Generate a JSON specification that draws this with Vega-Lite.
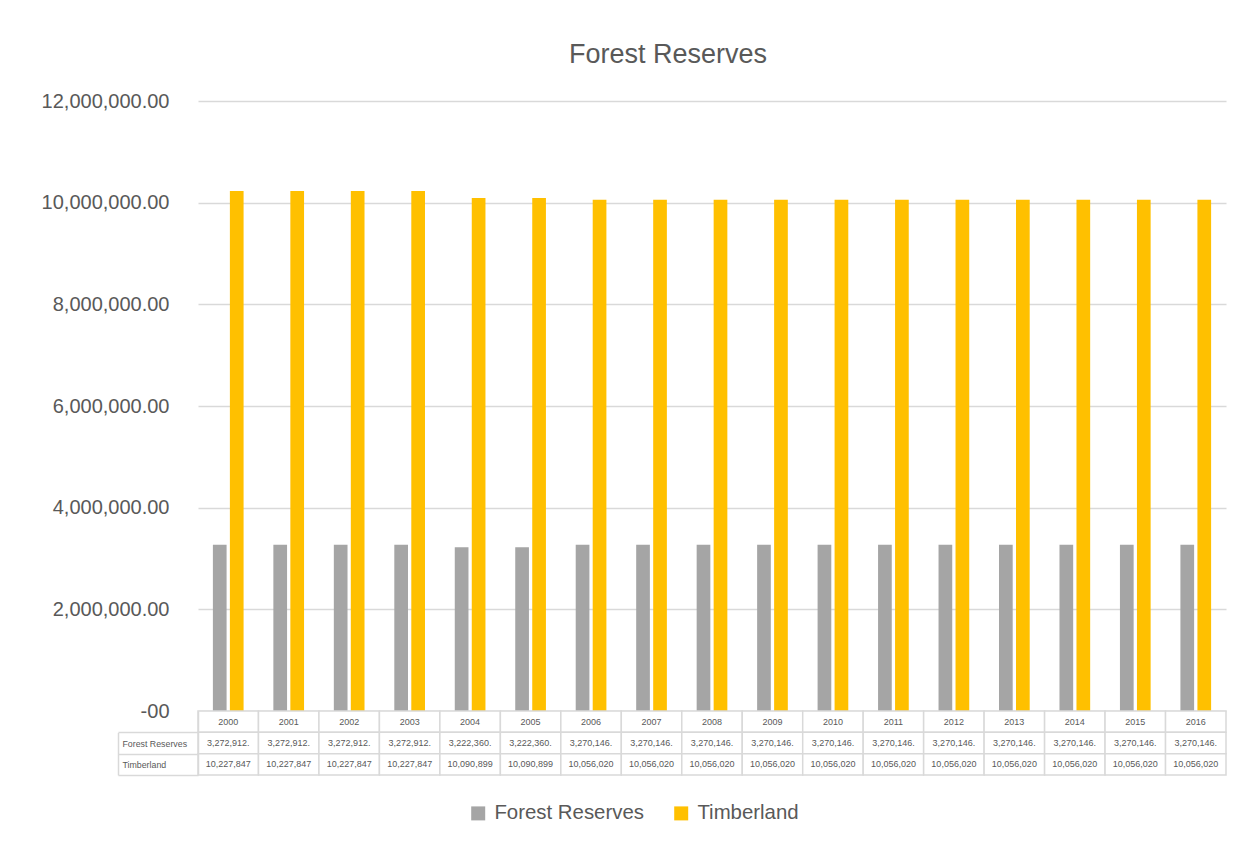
{
  "$schema": "https://vega.github.io/schema/vega-lite/v6.json",
  "width": 1028,
  "height": 674,
  "autosize": {"type": "none"},
  "padding": {"left": 198, "top": 101, "right": 30, "bottom": 71},
  "background": "white",
  "config": {"view": {"stroke": null}, "font": "Liberation Sans"},
  "title": {
    "text": "Forest Reserves",
    "fontSize": 27,
    "font": "Liberation Sans",
    "fontWeight": "normal",
    "color": "#595959",
    "anchor": "middle",
    "frame": "group",
    "dx": -44,
    "baseline": "alphabetic",
    "offset": 1
  },
  "data": {
    "values": [
      {"year": "2000", "Forest Reserves": 3272912, "Timberland": 10227847},
      {"year": "2001", "Forest Reserves": 3272912, "Timberland": 10227847},
      {"year": "2002", "Forest Reserves": 3272912, "Timberland": 10227847},
      {"year": "2003", "Forest Reserves": 3272912, "Timberland": 10227847},
      {"year": "2004", "Forest Reserves": 3222360, "Timberland": 10090899},
      {"year": "2005", "Forest Reserves": 3222360, "Timberland": 10090899},
      {"year": "2006", "Forest Reserves": 3270146, "Timberland": 10056020},
      {"year": "2007", "Forest Reserves": 3270146, "Timberland": 10056020},
      {"year": "2008", "Forest Reserves": 3270146, "Timberland": 10056020},
      {"year": "2009", "Forest Reserves": 3270146, "Timberland": 10056020},
      {"year": "2010", "Forest Reserves": 3270146, "Timberland": 10056020},
      {"year": "2011", "Forest Reserves": 3270146, "Timberland": 10056020},
      {"year": "2012", "Forest Reserves": 3270146, "Timberland": 10056020},
      {"year": "2013", "Forest Reserves": 3270146, "Timberland": 10056020},
      {"year": "2014", "Forest Reserves": 3270146, "Timberland": 10056020},
      {"year": "2015", "Forest Reserves": 3270146, "Timberland": 10056020},
      {"year": "2016", "Forest Reserves": 3270146, "Timberland": 10056020}
    ]
  },
  "layer": [
    {
      "transform": [{"fold": ["Forest Reserves", "Timberland"], "as": ["series", "value"]}],
      "mark": {"type": "bar"},
      "encoding": {
        "x": {"field": "year", "type": "nominal", "scale": {"paddingInner": 0, "paddingOuter": 0}, "axis": null},
        "xOffset": {"field": "series", "type": "nominal", "scale": {"domain": ["Forest Reserves", "Timberland"], "paddingInner": 0.194, "paddingOuter": 0.876}},
        "y": {
          "field": "value",
          "type": "quantitative",
          "scale": {"domain": [0, 12000000], "range": [610, 0], "nice": false},
          "axis": {
            "title": null,
            "orient": "left",
            "values": [0, 2000000, 4000000, 6000000, 8000000, 10000000, 12000000],
            "labelExpr": "datum.value == 0 ? '-00' : format(datum.value, ',.2f')",
            "domain": false,
            "ticks": false,
            "labelPadding": 29,
            "labelFontSize": 20,
            "labelFont": "Liberation Sans",
            "labelColor": "#595959",
            "grid": true,
            "gridColor": "#D9D9D9",
            "gridWidth": 1.5
          }
        },
        "color": {
          "field": "series",
          "type": "nominal",
          "scale": {"domain": ["Forest Reserves", "Timberland"], "range": ["#A5A5A5", "#FFC000"]},
          "legend": {
            "title": null,
            "orient": "none",
            "direction": "horizontal",
            "legendX": 270,
            "legendY": 702,
            "padding": 0,
            "symbolType": "square",
            "symbolSize": 196,
            "symbolStrokeWidth": 0,
            "labelFontSize": 20.4,
            "labelFont": "Liberation Sans",
            "labelColor": "#595959",
            "labelOffset": 6,
            "columnPadding": 27
          }
        }
      }
    },
    {
      "transform": [
        {"fold": ["year", "Forest Reserves", "Timberland"], "as": ["row", "val"]},
        {"calculate": "datum.row == 'year' ? datum.val : (format(floor(datum.val), ',') + (datum.row == 'Forest Reserves' ? '.' : ''))", "as": "label"}
      ],
      "encoding": {
        "x": {"field": "year", "type": "nominal", "scale": {"paddingInner": 0, "paddingOuter": 0}, "axis": null},
        "y": {
          "field": "row",
          "type": "nominal",
          "scale": {"domain": ["year", "Forest Reserves", "Timberland"], "range": [610, 674], "paddingInner": 0, "paddingOuter": 0},
          "axis": {
            "title": null,
            "orient": "left",
            "values": ["Forest Reserves", "Timberland"],
            "labelAlign": "left",
            "labelPadding": -4,
            "labelFontSize": 8.8,
            "labelFont": "Liberation Sans",
            "labelColor": "#595959",
            "ticks": true,
            "tickBand": "extent",
            "tickSize": 80,
            "tickColor": "#D9D9D9",
            "tickWidth": 1.5,
            "domainColor": "#D9D9D9",
            "domainWidth": 1.5,
            "grid": false
          }
        }
      },
      "layer": [
        {"mark": {"type": "rect", "fill": "white", "stroke": "#D9D9D9", "strokeWidth": 1.5}},
        {
          "mark": {"type": "text", "fontSize": 9, "font": "Liberation Sans", "color": "#595959", "baseline": "middle", "align": "center"},
          "encoding": {"text": {"field": "label", "type": "nominal"}}
        }
      ]
    },
    {
      "transform": [{"fold": ["Forest Reserves", "Timberland"], "as": ["row", "val"]}],
      "mark": {"type": "text", "opacity": 0},
      "encoding": {
        "text": {"value": ""},
        "y": {
          "field": "row",
          "type": "nominal",
          "scale": {"domain": ["Forest Reserves", "Timberland"], "range": [631.33, 674], "paddingInner": 0, "paddingOuter": 0},
          "axis": {
            "title": null,
            "orient": "left",
            "offset": 80,
            "labels": false,
            "ticks": false,
            "grid": false,
            "domain": true,
            "domainColor": "#D9D9D9",
            "domainWidth": 1.5
          }
        }
      }
    }
  ],
  "resolve": {"scale": {"y": "independent"}, "axis": {"y": "independent"}}
}
